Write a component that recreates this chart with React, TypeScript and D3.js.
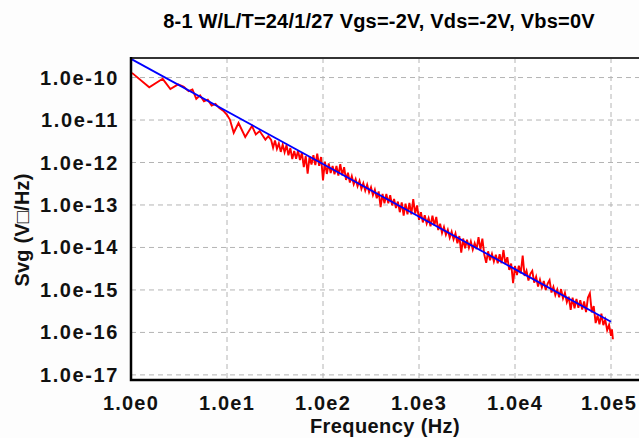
import { useEffect, useRef } from 'react';
import * as d3 from 'd3';

const title = '8-1 W/L/T=24/1/27 Vgs=-2V, Vds=-2V, Vbs=0V';
const xLabel = 'Frequency (Hz)';
const yLabel = 'Svg (V\u25A1/Hz)';

// decades shown on the axes (log10 of value)
const xTickExps = [0, 1, 2, 3, 4, 5];
const yTickExps = [-10, -11, -12, -13, -14, -15, -16, -17];

// measured noise spectrum, [log10 f, log10 Svg]
const redPoints: [number, number][] = [
  [0.01, -9.89], [0.19, -10.23], [0.33, -10.03], [0.41, -10.27], [0.49, -10.16],
  [0.55, -10.22], [0.60, -10.32], [0.64, -10.28], [0.68, -10.5], [0.72, -10.42],
  [0.76, -10.56], [0.8, -10.52], [0.84, -10.66], [0.88, -10.62], [0.92, -10.72],
  [0.96, -10.78], [1.0, -10.88], [1.03, -10.99], [1.07, -11.3], [1.12, -11.07],
  [1.19, -11.4], [1.26, -11.14], [1.3, -11.34], [1.34, -11.26], [1.4, -11.46],
  [1.43, -11.38], [1.46, -11.47], [1.48, -11.65], [1.5, -11.48], [1.52, -11.68],
  [1.54, -11.55], [1.56, -11.75], [1.58, -11.58], [1.6, -11.76], [1.62, -11.59],
  [1.64, -11.83], [1.66, -11.66], [1.68, -11.92], [1.7, -11.73], [1.72, -11.91],
  [1.74, -11.72], [1.76, -11.94], [1.78, -11.77], [1.8, -12.11], [1.82, -11.85],
  [1.84, -12.26], [1.86, -11.86], [1.88, -12.05], [1.9, -11.83], [1.92, -12.06],
  [1.94, -11.79], [1.96, -12.08], [1.98, -11.87], [2.0, -12.42], [2.02, -11.98],
  [2.04, -12.27], [2.06, -12.02], [2.08, -12.25], [2.1, -12.08], [2.12, -12.28],
  [2.14, -12.08], [2.16, -12.31], [2.18, -12.04], [2.2, -12.3], [2.22, -12.11],
  [2.24, -12.41], [2.26, -12.24], [2.28, -12.47], [2.3, -12.32], [2.32, -12.51],
  [2.34, -12.39], [2.36, -12.56], [2.38, -12.43], [2.4, -12.62], [2.42, -12.49],
  [2.44, -12.66], [2.46, -12.52], [2.48, -12.7], [2.5, -12.58], [2.52, -12.77],
  [2.54, -12.64], [2.56, -12.84], [2.58, -12.68], [2.6, -13.05], [2.62, -12.74],
  [2.64, -12.96], [2.66, -12.74], [2.68, -12.96], [2.7, -12.77], [2.72, -13.01],
  [2.74, -12.86], [2.76, -13.07], [2.78, -12.92], [2.8, -13.17], [2.82, -12.94],
  [2.84, -13.25], [2.86, -12.97], [2.88, -13.22], [2.9, -12.95], [2.92, -13.22],
  [2.94, -12.86], [2.96, -13.2], [2.98, -13.01], [3.0, -13.35], [3.02, -13.17],
  [3.04, -13.41], [3.06, -13.24], [3.08, -13.44], [3.1, -13.31], [3.12, -13.5],
  [3.14, -13.25], [3.16, -13.48], [3.18, -13.28], [3.2, -13.59], [3.22, -13.44],
  [3.24, -13.66], [3.26, -13.52], [3.28, -13.7], [3.3, -13.58], [3.32, -13.77],
  [3.34, -13.63], [3.36, -13.81], [3.38, -13.67], [3.4, -13.9], [3.42, -13.73],
  [3.44, -14.12], [3.46, -13.79], [3.48, -14.02], [3.5, -13.82], [3.52, -14.01],
  [3.54, -13.86], [3.56, -14.05], [3.58, -13.9], [3.6, -14.04], [3.62, -13.76],
  [3.64, -14.05], [3.66, -13.79], [3.68, -14.17], [3.7, -14.36], [3.72, -14.09],
  [3.74, -14.3], [3.76, -14.15], [3.78, -14.33], [3.8, -14.17], [3.82, -14.37],
  [3.84, -14.16], [3.86, -14.37], [3.88, -14.06], [3.9, -14.39], [3.92, -14.23],
  [3.94, -14.53], [3.96, -14.38], [3.98, -14.84], [4.0, -14.44], [4.02, -14.65],
  [4.04, -14.43], [4.06, -14.61], [4.08, -14.19], [4.1, -14.67], [4.12, -14.55],
  [4.14, -14.78], [4.16, -14.62], [4.18, -14.55], [4.2, -14.83], [4.22, -14.69],
  [4.24, -14.92], [4.26, -14.76], [4.28, -14.94], [4.3, -14.79], [4.32, -15.0],
  [4.34, -14.85], [4.36, -14.77], [4.38, -15.06], [4.4, -14.93], [4.42, -15.12],
  [4.44, -14.99], [4.46, -15.17], [4.48, -14.98], [4.5, -15.2], [4.52, -15.07],
  [4.54, -15.29], [4.56, -15.16], [4.58, -15.47], [4.6, -15.18], [4.62, -15.43],
  [4.64, -15.21], [4.66, -15.42], [4.68, -15.24], [4.7, -15.46], [4.72, -15.27],
  [4.74, -15.52], [4.76, -15.18], [4.78, -15.08], [4.8, -15.53], [4.82, -15.38],
  [4.84, -15.78], [4.86, -15.6], [4.88, -15.81], [4.9, -15.56], [4.92, -15.83],
  [4.94, -15.7], [4.96, -15.95], [4.98, -15.82], [5.0, -16.08], [5.01, -15.93],
  [5.02, -16.16]
];

// fitted 1/f^gamma line, end points
const blueFreq = [1, 1e5];
const blueSvg = [2.75e-10, 1.78e-16];

const W = 639;
const H = 438;

const App = () => {
  const svgRef = useRef<SVGSVGElement>(null);

  useEffect(() => {
    const svg = d3.select(svgRef.current);
    svg.selectAll('*').remove();

    const left = 131;
    const right = 641;
    const top = 58;
    const bottom = 380;
    const font = '"Liberation Sans", Arial, sans-serif';

    const x = d3.scaleLog().domain([1, Math.pow(10, (right - left) / 96)]).range([left, right]);
    const y = d3.scaleLog().domain([Math.pow(10, -17.12), Math.pow(10, -9.54)]).range([bottom, top]);

    svg.append('rect').attr('width', W).attr('height', H).attr('fill', '#fdfdfd');

    // Title
    svg.append('text')
      .attr('x', 379)
      .attr('y', 28)
      .attr('text-anchor', 'middle')
      .style('font-family', font)
      .style('font-size', '20px')
      .style('font-weight', 'bold')
      .style('letter-spacing', '0.2px')
      .text(title);

    svg.append('rect')
      .attr('x', left).attr('y', top)
      .attr('width', right - left).attr('height', bottom - top)
      .attr('fill', '#fff');

    // Grid
    const grid = svg.append('g')
      .attr('stroke', '#b4b4b4')
      .attr('stroke-width', 1)
      .attr('stroke-dasharray', '5,4');

    xTickExps.filter(e => e > 0).forEach(e => {
      grid.append('line')
        .attr('x1', x(Math.pow(10, e))).attr('x2', x(Math.pow(10, e)))
        .attr('y1', top).attr('y2', bottom);
    });
    yTickExps.forEach(e => {
      grid.append('line')
        .attr('x1', left).attr('x2', right)
        .attr('y1', y(Math.pow(10, e))).attr('y2', y(Math.pow(10, e)));
    });

    svg.append('clipPath').attr('id', 'plotClip')
      .append('rect')
      .attr('x', left).attr('y', top)
      .attr('width', right - left).attr('height', bottom - top);

    const line = d3.line<[number, number]>()
      .x(d => x(d[0]))
      .y(d => y(d[1]));

    const red = redPoints.map(([lf, ls]) => [Math.pow(10, lf), Math.pow(10, ls)] as [number, number]);
    svg.append('path')
      .datum(red)
      .attr('clip-path', 'url(#plotClip)')
      .attr('fill', 'none')
      .attr('stroke', '#ff0000')
      .attr('stroke-width', 1.9)
      .attr('d', line);

    const blue = blueFreq.map((f, i) => [f, blueSvg[i]] as [number, number]);
    svg.append('path')
      .datum(blue)
      .attr('clip-path', 'url(#plotClip)')
      .attr('fill', 'none')
      .attr('stroke', '#0000ff')
      .attr('stroke-width', 1.8)
      .attr('d', line);

    // Frame
    svg.append('rect')
      .attr('x', left).attr('y', top)
      .attr('width', right - left).attr('height', bottom - top)
      .attr('fill', 'none')
      .attr('stroke', '#333')
      .attr('stroke-width', 2);
    svg.append('path')
      .attr('d', `M${left},${top - 1}V${bottom}H${right}`)
      .attr('fill', 'none')
      .attr('stroke', '#000')
      .attr('stroke-width', 2.5);

    // Tick labels
    const labelStyle = (t: d3.Selection<SVGTextElement, unknown, null, undefined>, spacing: number) =>
      t.style('font-family', font)
        .style('font-size', '20px')
        .style('font-weight', 'bold')
        .style('letter-spacing', `${spacing}px`)
        .attr('fill', '#111');

    yTickExps.forEach(e => {
      svg.append('text')
        .attr('x', 119)
        .attr('y', y(Math.pow(10, e)) + 7)
        .attr('text-anchor', 'end')
        .call(labelStyle, 1.6)
        .text(`1.0e${e}`);
    });

    xTickExps.forEach(e => {
      svg.append('text')
        .attr('x', x(Math.pow(10, e)) - (e === 5 ? 2 : 0))
        .attr('y', 410)
        .attr('text-anchor', 'middle')
        .call(labelStyle, 1.2)
        .text(`1.0e${e}`);
    });

    svg.append('text')
      .attr('x', 385)
      .attr('y', 433)
      .attr('text-anchor', 'middle')
      .call(labelStyle, 0.4)
      .text(xLabel);

    svg.append('text')
      .attr('transform', 'translate(29,230) rotate(-90)')
      .attr('text-anchor', 'middle')
      .call(labelStyle, 0.2)
      .text(yLabel);
  }, []);

  return (
    <svg
      ref={svgRef}
      width={W}
      height={H}
      style={{ position: 'absolute', left: 0, top: 0 }}
    ></svg>
  );
};

export default App;
